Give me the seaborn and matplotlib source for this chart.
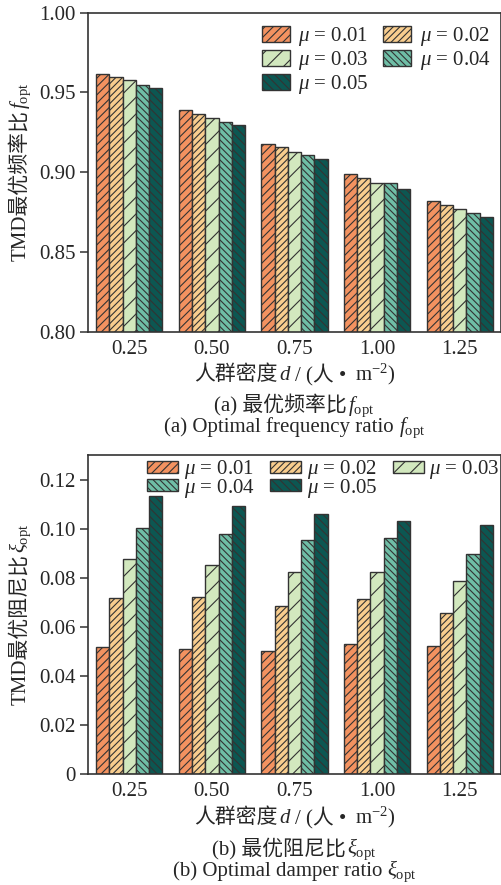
import matplotlib
matplotlib.use('Agg')
import matplotlib.pyplot as plt
import seaborn as sns
import numpy as np
import pandas as pd

# ---------------- data ----------------
densities = ['0.25', '0.50', '0.75', '1.00', '1.25']
mu_levels = ['0.01', '0.02', '0.03', '0.04', '0.05']

f_mu001 = [0.9615, 0.9388, 0.9175, 0.8987, 0.8822]
f_mu002 = [0.9596, 0.9365, 0.9156, 0.8964, 0.8793]
f_mu003 = [0.9577, 0.9340, 0.9129, 0.8935, 0.8772]
f_mu004 = [0.9544, 0.9317, 0.9108, 0.8935, 0.8743]
f_mu005 = [0.9525, 0.9296, 0.9081, 0.8895, 0.8722]

xi_mu001 = [0.0519, 0.0509, 0.0501, 0.0528, 0.0521]
xi_mu002 = [0.0716, 0.0722, 0.0684, 0.0712, 0.0657]
xi_mu003 = [0.0876, 0.0851, 0.0824, 0.0822, 0.0787]
xi_mu004 = [0.1002, 0.0979, 0.0952, 0.0963, 0.0897]
xi_mu005 = [0.1131, 0.1092, 0.1059, 0.1033, 0.1016]

f_ticks = [0.80, 0.85, 0.90, 0.95, 1.00]
f_ticklabels = ['0.80', '0.85', '0.90', '0.95', '1.00']
xi_ticks = [0, 0.02, 0.04, 0.06, 0.08, 0.10, 0.12]
xi_ticklabels = ['0', '0.02', '0.04', '0.06', '0.08', '0.10', '0.12']

colors = ['#F39260', '#F8CD8E', '#D2E8BE', '#6FBEA6', '#0C5752']
hatches = ['////', '/////', '//', '\\\\\\\\\\', '\\\\\\\\']

f_series = [f_mu001, f_mu002, f_mu003, f_mu004, f_mu005]
xi_series = [xi_mu001, xi_mu002, xi_mu003, xi_mu004, xi_mu005]


def long_df(series):
    rows = []
    for mu, vals in zip(mu_levels, series):
        for d, v in zip(densities, vals):
            rows.append({'d': d, 'mu': mu, 'v': v})
    return pd.DataFrame(rows)


df_f = long_df(f_series)
df_xi = long_df(xi_series)

# ---------------- style ----------------
sns.set_style('ticks')
plt.rcParams['font.family'] = ['Liberation Serif', 'Noto Sans CJK SC']
plt.rcParams['mathtext.fontset'] = 'custom'
plt.rcParams['mathtext.rm'] = 'Liberation Serif'
plt.rcParams['mathtext.it'] = 'Liberation Serif:italic'
plt.rcParams['mathtext.bf'] = 'Liberation Serif:bold'
plt.rcParams['hatch.linewidth'] = 0.8
plt.rcParams['axes.unicode_minus'] = True

FS = 15
EDGE = '#333333'

W, H = 502, 885
fig = plt.figure(figsize=(W / 100, H / 100), dpi=100)


def axes_px(l, t, r, b):
    return fig.add_axes([l / W, 1 - b / H, (r - l) / W, (b - t) / H])


ax1 = axes_px(88, 12.5, 501, 332)
ax2 = axes_px(88, 455, 501, 774)


def draw(ax, df, ylim, ticks, ticklabels):
    sns.barplot(data=df, x='d', y='v', hue='mu', order=densities, hue_order=mu_levels,
                palette=colors, saturation=1, width=0.8, edgecolor=EDGE, linewidth=1.0,
                ax=ax, legend=False)
    for cont, h in zip(ax.containers, hatches):
        for p in cont.patches:
            p.set_hatch(h)
    ax.set_xlim(-0.5, 4.5)
    ax.set_ylim(*ylim)
    ax.set_yticks(ticks)
    ax.set_yticklabels(ticklabels)
    ax.set_xlabel('')
    ax.set_ylabel('')
    for s in ax.spines.values():
        s.set_visible(True)
        s.set_color(EDGE)
        s.set_linewidth(1.2)
    ax.tick_params(axis='y', direction='out', length=6, width=1.1, color=EDGE,
                   labelsize=FS, pad=3)
    ax.tick_params(axis='x', length=0, labelsize=FS, pad=6)
    for lab in ax.get_xticklabels() + ax.get_yticklabels():
        lab.set_family('Liberation Serif')


draw(ax1, df_f, (0.80, 1.00), f_ticks, f_ticklabels)
draw(ax2, df_xi, (0, 0.13), xi_ticks, xi_ticklabels)

labels = [r'$\mu$ = ' + m for m in mu_levels]

h1 = [c.patches[0] for c in ax1.containers]
order1 = [0, 2, 4, 1, 3]
ax1.legend([h1[i] for i in order1], [labels[i] for i in order1], ncol=2,
           loc='upper right', bbox_to_anchor=(0.975, 0.96), frameon=False,
           fontsize=FS, handlelength=1.35, handleheight=0.8, handletextpad=0.4,
           columnspacing=0.7, labelspacing=0.05, borderpad=0, borderaxespad=0)

h2 = [c.patches[0] for c in ax2.containers]
order2 = [0, 3, 1, 4, 2]
ax2.legend([h2[i] for i in order2], [labels[i] for i in order2], ncol=3,
           loc='upper left', bbox_to_anchor=(0.143, 0.99), frameon=False,
           fontsize=FS, handlelength=1.5, handleheight=0.5, handletextpad=0.25,
           columnspacing=0.75, labelspacing=-0.22, borderpad=0, borderaxespad=0)

# ---------------- multi-font labels ----------------
TXT = dict(family=['Liberation Serif', 'Noto Sans CJK SC'], size=FS)
MTH = dict(family='Liberation Serif', size=FS)


def seg_text(x, y, segs, rotation=0):
    r = fig.canvas.get_renderer()
    ws = []
    for s, kw, gap in segs:
        t = fig.text(0, 0, s, **kw)
        ws.append(t.get_window_extent(r).width + gap)
        t.remove()
    total = sum(ws)
    if rotation == 0:
        cx = x - total / 2
        for (s, kw, gap), w in zip(segs, ws):
            fig.text(cx / W, 1 - y / H, s, ha='left', va='baseline', **kw)
            cx += w
    else:
        cy = y + total / 2
        for (s, kw, gap), w in zip(segs, ws):
            fig.text(x / W, 1 - cy / H, s, ha='left', va='baseline', rotation=90,
                     rotation_mode='anchor', **kw)
            cy -= w


FOPT = r'$f_{\mathrm{opt}}$'
XIOPT = r'$\xi_{\mathrm{opt}}$'

xcenter = (88 + 501) / 2

# y labels
seg_text(25, 172, [('TMD最优频率比', TXT, 1), (FOPT, MTH, 0)], rotation=90)
seg_text(25, 614, [('TMD最优阻尼比', TXT, 1), (XIOPT, MTH, 0)], rotation=90)

# x labels
xl = [('人群密度', TXT, 1), ('$d$', MTH, 4), ('/ (人 • ', TXT, 3), ('m$^{-2}$)', MTH, 0)]
seg_text(xcenter, 380, xl)
seg_text(xcenter, 823, xl)

# captions
seg_text(xcenter, 411, [('(a) 最优频率比', TXT, 1), (FOPT, MTH, 0)])
seg_text(xcenter, 432, [('(a) Optimal frequency ratio', TXT, 5), (FOPT, MTH, 0)])
seg_text(xcenter, 854, [('(b) 最优阻尼比', TXT, 1), (XIOPT, MTH, 0)])
seg_text(xcenter, 876, [('(b) Optimal damper ratio', TXT, 5), (XIOPT, MTH, 0)])

fig.savefig('out.png', dpi=100)
